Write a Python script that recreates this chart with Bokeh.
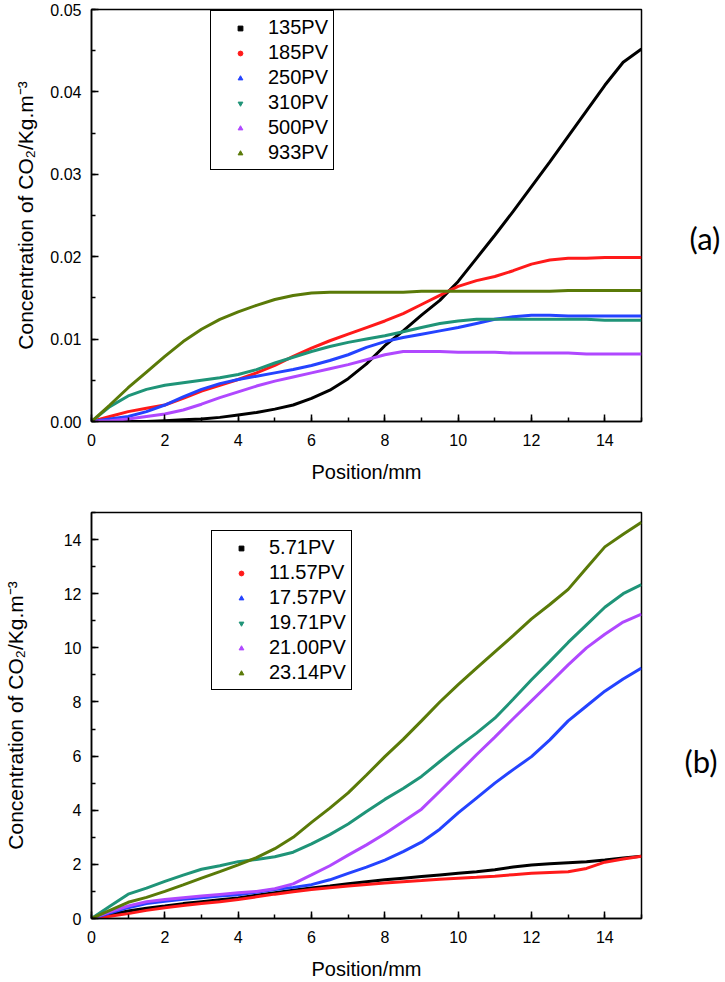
import math
from bokeh.plotting import figure
from bokeh.models import (Legend, LegendItem, NumeralTickFormatter,
                          SingleIntervalTicker, Range1d, LinearAxis, FixedTicker)
from bokeh.layouts import column
from bokeh.embed import file_html
from bokeh.resources import INLINE

# ---------------- panel (a) data ----------------
pos_a = [0, 0.5, 1, 1.5, 2, 2.5, 3, 3.5, 4, 4.5, 5, 5.5, 6, 6.5, 7, 7.5,
         8, 8.5, 9, 9.5, 10, 10.5, 11, 11.5, 12, 12.5, 13, 13.5, 14, 14.5, 15]
pv135 = [0, 0, 0, 0, 0.0001, 0.0002, 0.0003, 0.0005, 0.0008, 0.0011, 0.0015,
         0.002, 0.0028, 0.0038, 0.0052, 0.007, 0.0092, 0.011, 0.0129, 0.0147,
         0.017, 0.0198, 0.0226, 0.0255, 0.0285, 0.0315, 0.0346, 0.0377,
         0.0408, 0.0436, 0.0452]
pv185 = [0, 0.0006, 0.0012, 0.0016, 0.002, 0.0028, 0.0037, 0.0044, 0.0051,
         0.0059, 0.0068, 0.0079, 0.0089, 0.0098, 0.0106, 0.0114, 0.0122,
         0.0131, 0.0142, 0.0153, 0.0164, 0.0171, 0.0176, 0.0183, 0.0191,
         0.0196, 0.0198, 0.0198, 0.0199, 0.0199, 0.0199]
pv250 = [0, 0.0003, 0.0006, 0.0012, 0.002, 0.003, 0.0039, 0.0046, 0.0051,
         0.0055, 0.0059, 0.0063, 0.0068, 0.0074, 0.0081, 0.009, 0.0097,
         0.0102, 0.0106, 0.011, 0.0114, 0.0119, 0.0124, 0.0127, 0.0129,
         0.0129, 0.0128, 0.0128, 0.0128, 0.0128, 0.0128]
pv310 = [0, 0.0018, 0.0031, 0.0039, 0.0044, 0.0047, 0.005, 0.0053, 0.0057,
         0.0063, 0.0071, 0.0078, 0.0085, 0.0091, 0.0096, 0.01, 0.0104,
         0.0109, 0.0114, 0.0119, 0.0122, 0.0124, 0.0124, 0.0124, 0.0124,
         0.0124, 0.0124, 0.0124, 0.0123, 0.0123, 0.0123]
pv500 = [0, 0.0001, 0.0003, 0.0006, 0.0009, 0.0014, 0.0021, 0.0029, 0.0036,
         0.0043, 0.0049, 0.0054, 0.0059, 0.0064, 0.0069, 0.0075, 0.0081,
         0.0085, 0.0085, 0.0085, 0.0084, 0.0084, 0.0084, 0.0083, 0.0083,
         0.0083, 0.0083, 0.0082, 0.0082, 0.0082, 0.0082]
pv933 = [0, 0.002, 0.0041, 0.006, 0.0079, 0.0097, 0.0112, 0.0124, 0.0133,
         0.0141, 0.0148, 0.0153, 0.0156, 0.0157, 0.0157, 0.0157, 0.0157,
         0.0157, 0.0158, 0.0158, 0.0158, 0.0158, 0.0158, 0.0158, 0.0158,
         0.0158, 0.0159, 0.0159, 0.0159, 0.0159, 0.0159]
labels_a = ["135PV", "185PV", "250PV", "310PV", "500PV", "933PV"]

# ---------------- panel (b) data ----------------
pos_b = [0, 0.5, 1, 1.5, 2, 2.5, 3, 3.5, 4, 4.5, 5, 5.5, 6, 6.5, 7, 7.5,
         8, 8.5, 9, 9.5, 10, 10.5, 11, 11.5, 12, 12.5, 13, 13.5, 14, 14.5, 15]
pv5_71 = [0, 0.15, 0.28, 0.38, 0.46, 0.55, 0.62, 0.69, 0.76, 0.86, 0.95,
          1.04, 1.13, 1.2, 1.28, 1.36, 1.43, 1.49, 1.55, 1.61, 1.67, 1.73,
          1.8, 1.9, 1.98, 2.02, 2.06, 2.1, 2.16, 2.24, 2.3]
pv11_57 = [0, 0.08, 0.18, 0.3, 0.4, 0.48, 0.55, 0.62, 0.7, 0.8, 0.9, 0.99,
           1.07, 1.14, 1.2, 1.26, 1.31, 1.36, 1.4, 1.45, 1.49, 1.52, 1.56,
           1.62, 1.67, 1.7, 1.73, 1.85, 2.08, 2.2, 2.3]
pv17_57 = [0, 0.2, 0.4, 0.55, 0.64, 0.71, 0.77, 0.83, 0.88, 0.97, 1.07,
           1.15, 1.25, 1.43, 1.67, 1.9, 2.16, 2.47, 2.82, 3.3, 3.9, 4.45, 5.0,
           5.5, 5.98, 6.6, 7.3, 7.85, 8.4, 8.85, 9.25]
pv19_71 = [0, 0.45, 0.9, 1.12, 1.37, 1.6, 1.82, 1.95, 2.1, 2.18, 2.28, 2.45,
           2.76, 3.1, 3.49, 3.95, 4.4, 4.8, 5.25, 5.8, 6.34, 6.85, 7.4, 8.1,
           8.82, 9.5, 10.2, 10.85, 11.5, 12.0, 12.34]
pv21_00 = [0, 0.25, 0.46, 0.62, 0.7, 0.77, 0.83, 0.89, 0.95, 1.0, 1.1,
           1.28, 1.61, 1.95, 2.34, 2.72, 3.13, 3.58, 4.04, 4.7, 5.37, 6.05,
           6.7, 7.38, 8.04, 8.7, 9.37, 10.0, 10.5, 10.95, 11.25]
pv23_14 = [0, 0.3, 0.6, 0.78, 1.0, 1.24, 1.49, 1.73, 1.98, 2.25, 2.58,
           3.0, 3.55, 4.08, 4.64, 5.3, 5.98, 6.62, 7.3, 8.0, 8.64, 9.25, 9.85,
           10.45, 11.07, 11.6, 12.16, 12.95, 13.73, 14.2, 14.64]
labels_b = ["5.71PV", "11.57PV", "17.57PV", "19.71PV", "21.00PV", "23.14PV"]

colors = ["#000000", "#ff1a1a", "#2443ff", "#1f9478", "#b048ff", "#5a7a08"]
markers = ["square", "circle", "triangle", "inverted_triangle", "triangle",
           "triangle"]

FONT = "Liberation Sans"


def style(p, xint, yint, yfmt):
    p.grid.visible = False
    p.outline_line_color = "black"
    p.outline_line_width = 1.5
    p.outline_line_alpha = 1.0
    p.background_fill_color = "white"
    p.border_fill_color = "white"
    p.xaxis.ticker = SingleIntervalTicker(interval=xint, num_minor_ticks=2)
    p.yaxis.ticker = SingleIntervalTicker(interval=yint, num_minor_ticks=2)
    p.yaxis.formatter = NumeralTickFormatter(format=yfmt)
    for ax in (p.xaxis, p.yaxis):
        ax.axis_line_width = 1.5
        ax.axis_line_color = "black"
        ax.major_tick_in = 7
        ax.major_tick_out = 0
        ax.minor_tick_in = 4
        ax.minor_tick_out = 0
        ax.major_tick_line_width = 1.5
        ax.minor_tick_line_width = 1.5
        ax.major_tick_line_color = "black"
        ax.minor_tick_line_color = "black"
        ax.major_label_text_font = FONT
        ax.major_label_text_font_size = "16px"
        ax.major_label_text_color = "black"
        ax.axis_label_text_font = FONT
        ax.axis_label_text_font_size = "20px"
        ax.axis_label_text_font_style = "normal"
        ax.axis_label_text_color = "black"
    p.xaxis.major_label_standoff = 12
    p.yaxis.major_label_standoff = 10
    p.xaxis.axis_label_standoff = 12
    p.yaxis.axis_label_text_font_size = "21px"
    p.xaxis.axis_label = "Position/mm"
    p.yaxis.axis_label = "Concentration of CO\u2082/Kg.m\u207b\u00b3"


def add_legend(p, labels, loc):
    items = []
    for lab, col, mk in zip(labels, colors, markers):
        r = p.scatter(x=[float("nan")], y=[float("nan")], marker=mk,
                      size=4, color=col)
        items.append(LegendItem(label=lab, renderers=[r]))
    lg = Legend(items=items, location=loc)
    lg.border_line_color = "black"
    lg.border_line_width = 1
    lg.border_line_alpha = 1.0
    lg.background_fill_alpha = 1.0
    lg.label_text_font = FONT
    lg.label_text_font_size = "20px"
    lg.label_text_color = "black"
    lg.glyph_width = 48
    lg.glyph_height = 12
    lg.label_height = 20
    lg.spacing = 2
    lg.padding = 5
    lg.label_standoff = 4
    lg.margin = 0
    p.add_layout(lg)


def panel_tag(p, text, standoff):
    ax = LinearAxis(ticker=FixedTicker(ticks=[]), axis_line_color=None,
                    major_tick_line_color=None, minor_tick_line_color=None,
                    axis_label=text, axis_label_text_font="Lato",
                    axis_label_text_font_size="31px",
                    axis_label_text_font_style="normal",
                    axis_label_text_color="black",
                    axis_label_text_line_height=1.2,
                    axis_label_orientation="horizontal",
                    axis_label_standoff=standoff)
    p.add_layout(ax, "right")


# ---------------- figure (a) ----------------
pa = figure(width=725, height=500, x_range=Range1d(0, 15), y_range=Range1d(0, 0.05),
            output_backend="svg", toolbar_location=None,
            min_border_left=89, min_border_right=84, min_border_top=9,
            min_border_bottom=79)
style(pa, 2, 0.01, "0.00")
pa.yaxis.axis_label_standoff = 10
series_a = [pv135, pv185, pv250, pv310, pv500, pv933]
for ys, col in zip(series_a, colors):
    pa.line(pos_a, ys, line_color=col, line_width=3)
add_legend(pa, labels_a, (119, 251))
panel_tag(pa, "\n(a)", 48)

# ---------------- figure (b) ----------------
pb = figure(width=725, height=482, x_range=Range1d(0, 15), y_range=Range1d(0, 15),
            output_backend="svg", toolbar_location=None,
            min_border_left=88, min_border_right=78, min_border_top=12,
            min_border_bottom=59)
style(pb, 2, 2, "0")
pb.yaxis.axis_label_standoff = 34
series_b = [pv5_71, pv11_57, pv17_57, pv19_71, pv21_00, pv23_14]
for ys, col in zip(series_b, colors):
    pb.line(pos_b, ys, line_color=col, line_width=3)
add_legend(pb, labels_b, (120, 228))
panel_tag(pb, "\n\n(b)", 43)

layout = column(pa, pb, spacing=0)
open("out.html", "w").write(file_html(layout, INLINE))
